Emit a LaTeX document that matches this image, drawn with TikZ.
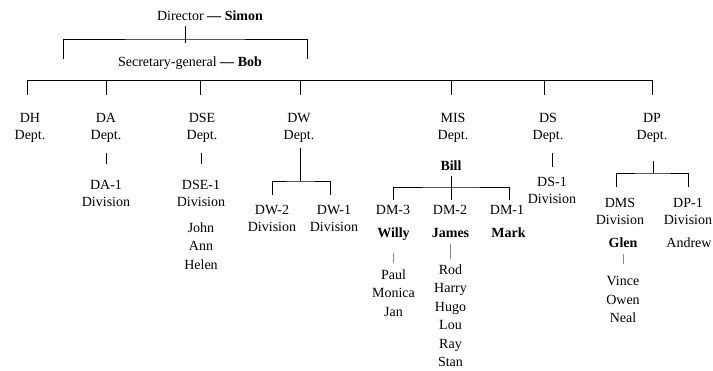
\documentclass[tikz,border=0pt]{standalone}
\usepackage{fontspec}
\setmainfont{Liberation Serif}
\usetikzlibrary{positioning}

\begin{document}
\begin{tikzpicture}[
    x=1pt, y=-1pt,
    unit/.style={inner sep=0pt, anchor=north, align=center, font=\fontsize{14}{17}\selectfont},
    head/.style={unit, font=\fontsize{14}{17}\selectfont\bfseries},
    team/.style={inner sep=0pt, align=center, font=\fontsize{14}{18.5}\selectfont},
    tree/.style={line width=0.8pt},
    staffline/.style={line width=0.6pt, black!45}
]
    \useasboundingbox (0,0) rectangle (713,371);

    \node[unit] (dir) at (210,11) {Director \textbf{---} \textbf{Simon}};
    \node[unit] (sec) at (190,56.5) {Secretary-general \textbf{---} \textbf{Bob}};
    \coordinate (dirjoin) at (185,39);
    \coordinate (secL) at (63,59);
    \coordinate (secR) at (307,59);

    \foreach \n/\t/\x/\d in {dh/DH/30/27, da/DA/106/106, dse/DSE/202/200, dw/DW/299/300, mis/MIS/453/451, ds/DS/548/544, dp/DP/652/652}{
        \node[unit] (\n) at (\x,113.5) {\t\\Dept.};
        \coordinate (\n-top) at (\d,80);
    }

    \node[unit] (da1) at (106,180.5) {DA-1\\Division};
    \node[unit] (dse1) at (201,180.5) {DSE-1\\Division};
    \node[team, below=15pt of dse1] (dseteam) {John\\Ann\\Helen};

    \node[unit] (dw2) at (272,205.5) {DW-2\\Division};
    \node[unit] (dw1) at (334,205.5) {DW-1\\Division};
    \coordinate (dwbar) at (300,181);

    \node[head] (bill) at (451,160.5) {Bill};
    \node[unit] (dm3) at (393,205.5) {DM-3};
    \node[unit] (dm2) at (450,205.5) {DM-2};
    \node[unit] (dm1) at (507,205.5) {DM-1};
    \coordinate (misbar) at (451,187);
    \node[head] (willy) at (393.5,228) {Willy};
    \node[head] (james) at (450.5,228) {James};
    \node[head] (mark) at (508.5,227.5) {Mark};
    \node[team, below=28pt of willy] (willyteam) {Paul\\Monica\\Jan};
    \node[team, below=26.5pt of james] (jamesteam) {Rod\\Harry\\Hugo\\Lou\\Ray\\Stan};

    \node[unit] (ds1) at (552,177.5) {DS-1\\Division};

    \node[unit] (dms) at (620,198.5) {DMS\\Division};
    \node[unit] (dp1) at (688,198.5) {DP-1\\Division};
    \coordinate (dpbar) at (653,173);
    \node[head] (glen) at (623,238) {Glen};
    \node[team, below=28pt of glen] (glenteam) {Vince\\Owen\\Neal};
    \node[team, anchor=north] (andrew) at (689,237.5) {Andrew};

    \draw[tree] ([yshift=-5pt]dir.south -| dirjoin) -- ([yshift=-4pt]dirjoin);
    \draw[tree] (secL) |- (dirjoin) -| (secR);

    \draw[tree] (dh-top) -- (dp-top);
    \foreach \n in {dh,da,dse,dw,mis,ds,dp}
        \draw[tree] (\n-top) -- ++(0,15);

    \draw[tree] ([yshift=-9.5pt]da.south -| da1) -- ([yshift=16.5pt]da1.north);
    \draw[tree] ([yshift=-9.5pt]dse.south -| dse1) -- ([yshift=16.5pt]dse1.north);

    \draw[tree] ([yshift=-5pt]dw.south -| dwbar) -- (dwbar);
    \draw[tree] ([yshift=10pt]dw2.north) |- (dwbar) -| ([xshift=-4pt, yshift=10pt]dw1.north);

    \draw[tree] ([yshift=-5pt]bill.south -| misbar) -- ([yshift=5.5pt]dm2.north -| misbar);
    \draw[tree] ([yshift=5.5pt]dm3.north) |- (misbar) -| ([xshift=2pt, yshift=5.5pt]dm1.north);
    \draw[staffline] ([yshift=-11.5pt]willy.south) -- ([yshift=6.5pt]willyteam.north);
    \draw[staffline] ([yshift=-6pt]james.south) -- ([yshift=5.5pt]jamesteam.north);

    \draw[tree] ([yshift=-10pt]ds.south -| ds1) -- ([yshift=10pt]ds1.north);

    \draw[tree] ([yshift=-17.5pt]dp.south -| dpbar) -- (dpbar);
    \draw[tree] ([xshift=-4pt, yshift=11.5pt]dms.north) |- (dpbar) -| ([yshift=11.5pt]dp1.north);
    \draw[staffline] ([yshift=-5.5pt]glen.south) -- ([yshift=12.5pt]glenteam.north);

\end{tikzpicture}
\end{document}
